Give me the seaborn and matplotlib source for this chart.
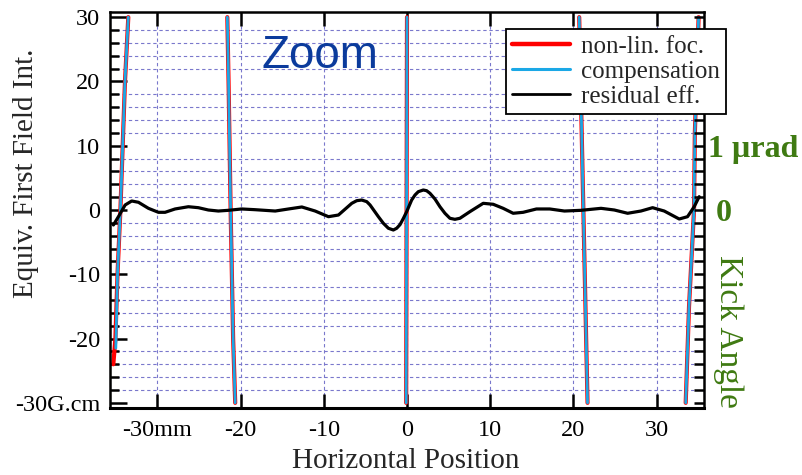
import numpy as np
import pandas as pd
import seaborn as sns
import matplotlib
matplotlib.use("Agg")
import matplotlib.pyplot as plt
from matplotlib.lines import Line2D
from matplotlib.ticker import MultipleLocator, FixedLocator

# ---------------- data ----------------
# non-linear focusing field integral: visible steep segments (G.cm vs mm)
nonlin_x = [[-35.3, -35.05, -34.8, -34.45, -33.9, -33.5],
            [-21.6, -21.45, -21.2, -20.9, -20.65],
            [-0.1, -0.05, 0.0],
            [20.7, 21.2, 21.45, 21.7],
            [33.5, 33.9, 34.5, 34.6, 35.05]]
nonlin_y = [[-24, -20, -10, 0, 20, 30],
            [30, 20, 0, -20, -30],
            [-30, 0, 30],
            [30, 0, -15, -30],
            [-30, -15, 0, 12, 30]]

# compensation (nearly identical)
comp_x = [[-35.0, -34.8, -34.45, -33.9, -33.5],
          [-21.6, -21.45, -21.2, -20.9, -20.65],
          [-0.1, -0.05, 0.0],
          [20.7, 21.2, 21.45, 21.7],
          [33.5, 33.9, 34.5, 34.6, 35.05]]
comp_y = [[-21.5, -10, 0, 20, 30],
          [30, 20, 0, -20, -30],
          [-30, 0, 30],
          [30, 0, -15, -30],
          [-30, -15, 0, 12, 30]]

# residual effect
resid_x = [-35.29, -34.69, -33.88, -33.09, -32.28, -31.08, -29.88, -29.08, -27.88, -26.28,
           -25.08, -23.88, -22.68, -21.48, -19.88, -18.28, -15.84, -14.24, -12.64, -11.04,
           -9.44, -8.24, -6.64, -6.04, -5.44, -4.84, -4.44, -3.44, -2.84, -2.24,
           -1.64, -1.24, -0.84, -0.43, -0.04, 0.56, 0.96, 1.36, 1.96, 2.36,
           2.76, 3.36, 3.96, 4.56, 5.16, 5.76, 6.36, 7.56, 9.16, 10.36,
           11.56, 12.76, 13.96, 15.56, 17.16, 18.92, 20.92, 23.32, 24.92, 26.52,
           28.12, 29.52, 30.92, 32.72, 33.72, 34.52, 35.12]
resid_y = [-2.33, -1.04, 0.78, 1.40, 1.20, 0.26, -0.36, -0.36, 0.16, 0.51,
           0.36, 0.00, -0.16, -0.05, 0.16, 0.05, -0.16, 0.16, 0.47, -0.16,
           -1.04, -0.78, 1.04, 1.45, 1.55, 1.30, 0.78, -1.04, -2.07, -2.84,
           -3.11, -2.84, -2.28, -1.29, -0.26, 1.55, 2.33, 2.85, 3.11, 3.00,
           2.60, 1.71, 0.51, -0.51, -1.29, -1.45, -1.29, -0.26, 1.04, 0.89,
           0.26, -0.51, -0.36, 0.16, 0.16, -0.16, -0.05, 0.26, 0.00, -0.51,
           -0.16, 0.36, -0.16, -1.40, -1.04, 0.51, 2.07]

series_labels = ["non-lin. foc.", "compensation", "residual eff."]
series_colors = ["#ff0000", "#1ba8e6", "#000000"]

xticks = [-30, -20, -10, 0, 10, 20, 30]
xtick_labels = ["-30mm", "-20", "-10", "0", "10", "20", "30"]
yticks = [-30, -20, -10, 0, 10, 20, 30]
ytick_labels = ["-30G.cm", "-20", "-10", "0", "10", "20", "30"]
rticks = [0.0, 1.0]
rtick_labels = [" 0", "1 µrad"]


def seg_frame(xs, ys):
    rows = []
    for i, (sx, sy) in enumerate(zip(xs, ys)):
        for a, b in zip(sx, sy):
            rows.append({"x": a, "y": b, "seg": i})
    return pd.DataFrame(rows)


df_nl = seg_frame(nonlin_x, nonlin_y)
df_cp = seg_frame(comp_x, comp_y)
df_rs = pd.DataFrame({"x": resid_x, "y": resid_y, "seg": 0})

# ---------------- style ----------------
sns.set_theme(style="white")
plt.rcParams["font.family"] = ["Liberation Serif", "DejaVu Serif"]
plt.rcParams["axes.linewidth"] = 1.6

fig = plt.figure(figsize=(8.02, 4.75), dpi=100)
ax = fig.add_axes([110 / 802, 67 / 475, 594 / 802, 396 / 475])

grid_color = "#7a78cc"

sns.lineplot(data=df_nl, x="x", y="y", units="seg", estimator=None, sort=False,
             color=series_colors[0], linewidth=3.0, ax=ax, legend=False,
             solid_capstyle="round")
sns.lineplot(data=df_cp, x="x", y="y", units="seg", estimator=None, sort=False,
             color=series_colors[1], linewidth=2.0, ax=ax, legend=False,
             solid_capstyle="round")
sns.lineplot(data=df_rs, x="x", y="y", units="seg", estimator=None, sort=False,
             color=series_colors[2], linewidth=2.3, ax=ax, legend=False,
             solid_joinstyle="round", solid_capstyle="round")

ax.set_xlim(-35.7, 35.7)
ax.set_ylim(-30.8, 30.8)

ax.set_xticks(xticks)
ax.set_xticklabels(xtick_labels)
ax.set_yticks(yticks)
ax.set_yticklabels(ytick_labels)
ax.yaxis.set_minor_locator(MultipleLocator(2))

ax.tick_params(axis="both", which="major", labelsize=17.5, labelcolor="black")
ax.tick_params(axis="x", which="major", direction="in", length=10, width=1.8,
               top=True, bottom=True, color="black", pad=9)
ax.tick_params(axis="x", which="minor", top=False, bottom=False)
ax.tick_params(axis="y", which="major", direction="in", length=12, width=1.8,
               left=True, right=False, color="black", pad=7)
ax.tick_params(axis="y", which="minor", direction="in", length=6.5, width=1.8,
               left=True, right=False, color="black")

ax.grid(True, which="major", axis="x", color=grid_color, linestyle=(0, (3, 2.5)),
        linewidth=0.8)
ax.grid(True, which="minor", axis="y", color=grid_color, linestyle=(0, (3, 2.5)),
        linewidth=0.8)
ax.grid(False, which="major", axis="y")
ax.set_axisbelow(True)

for s in ax.spines.values():
    s.set_color("black")
    s.set_linewidth(1.8)
ax.spines["bottom"].set_linewidth(2.2)

ax.set_xlabel("Horizontal Position", fontsize=21)
ax.xaxis.set_label_coords(0.498, -0.134)
ax.xaxis.label.set_va("center")
ax.set_ylabel("Equiv. First Field Int.", fontsize=21)
ax.yaxis.set_label_coords(-0.1414, 0.592)
ax.yaxis.label.set_va("center")
ax.yaxis.label.set_ha("center")

ax.text(0.3535, 0.888, "Zoom", transform=ax.transAxes, fontsize=33,
        color="#0b3b9c", family=["Liberation Sans", "DejaVu Sans"],
        ha="center", va="center")

# ---------------- right kick-angle axis (1 µrad = 10 G.cm) ----------------
green = "#3f7a12"
ax2 = ax.twinx()
ax2.set_ylim(-3.08, 3.08)
ax2.yaxis.set_major_locator(FixedLocator(rticks))
ax2.set_yticklabels(rtick_labels)
ax2.yaxis.set_minor_locator(MultipleLocator(0.2))
ax2.tick_params(axis="y", which="major", direction="in", length=7, width=1.8,
                right=True, left=False, color="black",
                labelsize=23, labelcolor=green, pad=3)
ax2.tick_params(axis="y", which="minor", direction="in", length=7, width=1.8,
                right=True, left=False, color="black")
for lab in ax2.get_yticklabels():
    lab.set_fontweight("bold")
ax2.grid(False)
for s in ax2.spines.values():
    s.set_visible(False)
ax2.set_ylabel("Kick Angle", fontsize=24, color=green, rotation=270)
ax2.yaxis.set_label_coords(1.040, 0.194)
ax2.yaxis.label.set_rotation_mode("default")
ax2.yaxis.label.set_va("center")
ax2.yaxis.label.set_ha("center")

# ---------------- legend ----------------
handles = [Line2D([], [], color=series_colors[0], linewidth=3.2),
           Line2D([], [], color=series_colors[1], linewidth=2.2),
           Line2D([], [], color=series_colors[2], linewidth=2.0)]
leg = ax2.legend(handles, series_labels, loc="upper right",
                 bbox_to_anchor=(1.037, 0.957), borderaxespad=0,
                 fontsize=18, frameon=True, fancybox=False, framealpha=1,
                 edgecolor="black", handlelength=2.3, handletextpad=0.45,
                 labelspacing=0.1, borderpad=0.25)
leg.get_frame().set_linewidth(1.3)

fig.savefig("out.png", dpi=100)
